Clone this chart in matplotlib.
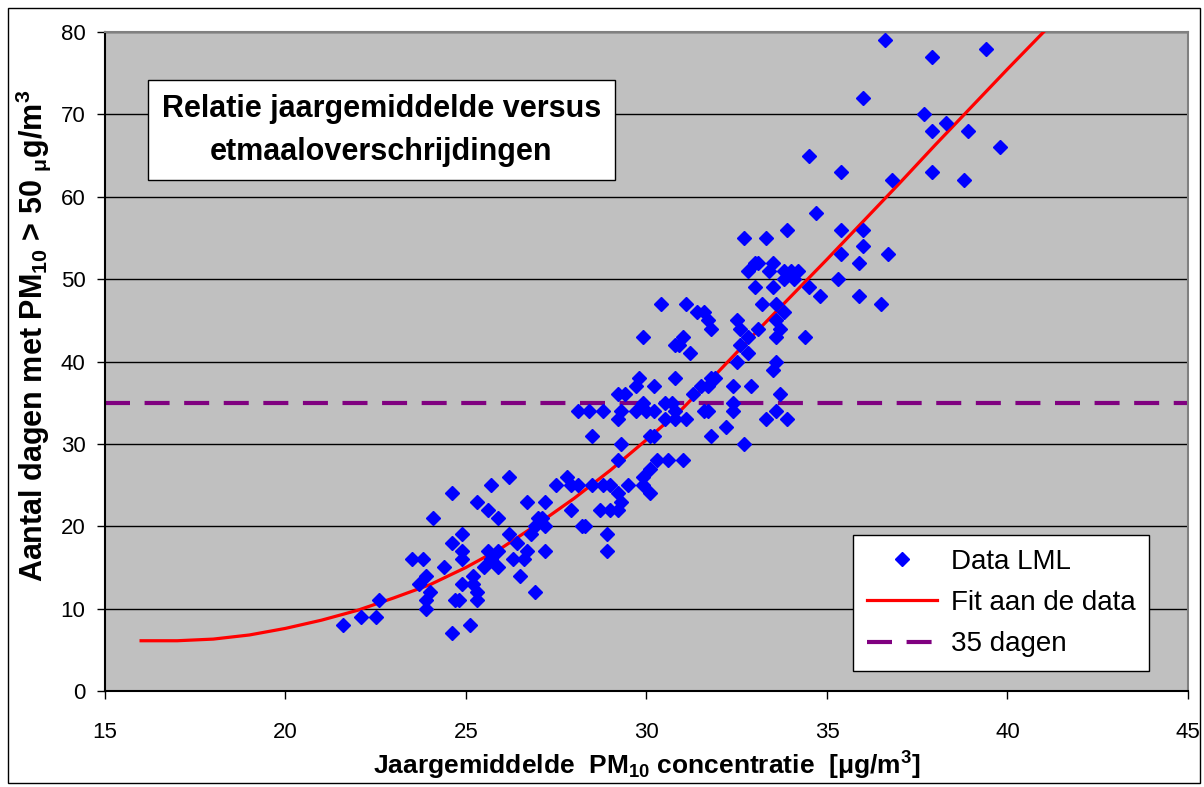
import numpy as np
import matplotlib
matplotlib.use("Agg")
import matplotlib.pyplot as plt
from matplotlib.patches import Rectangle

# jaargemiddelde PM10 (x) en aantal dagen > 50 ug/m3 (y)
pm_x = [21.6, 22.1, 22.5, 22.6, 23.5, 23.7, 23.8, 23.9, 23.9, 23.9, 24.0, 24.1, 24.4, 24.6, 24.6,
        24.6, 24.7, 24.8, 24.9, 24.9, 24.9, 24.9, 25.1, 25.2, 25.2, 25.3, 25.3, 25.3, 25.5, 25.6,
        25.6, 25.7, 25.7, 25.9, 25.9, 25.9, 26.2, 26.2, 26.3, 26.4, 26.5, 26.6, 26.7, 26.7, 26.8,
        26.9, 26.9, 27.0, 27.1, 27.2, 27.2, 27.2, 27.5, 27.8, 27.9, 27.9, 28.1, 28.1, 28.2, 28.3,
        28.4, 28.5, 28.5, 28.7, 28.8, 28.8, 28.9, 28.9, 29.0, 29.0, 29.2, 29.2, 29.2, 29.2, 29.2,
        29.3, 29.3, 29.3, 29.4, 29.5, 29.7, 29.7, 29.8, 29.9, 29.9, 29.9, 29.9, 30.0, 30.1, 30.1,
        30.1, 30.2, 30.2, 30.2, 30.3, 30.4, 30.5, 30.5, 30.6, 30.7, 30.8, 30.8, 30.8, 30.8, 30.9,
        31.0, 31.0, 31.1, 31.1, 31.2, 31.3, 31.4, 31.5, 31.6, 31.6, 31.7, 31.7, 31.7, 31.8, 31.8,
        31.8, 31.9, 32.2, 32.4, 32.4, 32.4, 32.5, 32.5, 32.6, 32.6, 32.7, 32.7, 32.8, 32.8, 32.8,
        32.9, 33.0, 33.0, 33.1, 33.1, 33.2, 33.3, 33.3, 33.4, 33.5, 33.5, 33.5, 33.6, 33.6, 33.6,
        33.6, 33.6, 33.7, 33.7, 33.8, 33.8, 33.8, 33.9, 33.9, 34.0, 34.1, 34.2, 34.4, 34.5, 34.5,
        34.7, 34.8, 35.3, 35.4, 35.4, 35.4, 35.9, 35.9, 36.0, 36.0, 36.0, 36.5, 36.6, 36.7, 36.8,
        37.7, 37.9, 37.9, 37.9, 38.3, 38.8, 38.9, 39.4, 39.8]
dagen = [8, 9, 9, 11, 16, 13, 16, 14, 11, 10, 12, 21, 15, 7, 18,
         24, 11, 11, 19, 17, 16, 13, 8, 13, 14, 11, 12, 23, 15, 17,
         22, 16, 25, 17, 21, 15, 26, 19, 16, 18, 14, 16, 17, 23, 19,
         20, 12, 21, 21, 20, 23, 17, 25, 26, 25, 22, 25, 34, 20, 20,
         34, 25, 31, 22, 25, 34, 19, 17, 22, 25, 22, 24, 28, 33, 36,
         23, 30, 34, 36, 25, 34, 37, 38, 35, 43, 26, 25, 34, 24, 27,
         31, 31, 34, 37, 28, 47, 35, 33, 28, 35, 33, 34, 38, 42, 42,
         43, 28, 33, 47, 41, 36, 46, 37, 34, 46, 34, 37, 45, 44, 31,
         38, 38, 32, 34, 35, 37, 40, 45, 44, 42, 30, 55, 41, 43, 51,
         37, 49, 52, 44, 52, 47, 33, 55, 51, 49, 39, 52, 34, 40, 43,
         45, 47, 36, 44, 46, 50, 51, 33, 56, 51, 50, 51, 43, 49, 65,
         58, 48, 50, 53, 56, 63, 48, 52, 54, 56, 72, 47, 79, 53, 62,
         70, 63, 68, 77, 69, 62, 68, 78, 66]

fit_x = [16, 17, 18, 19, 20, 21, 22, 23, 24, 25, 26, 27, 28, 29, 30, 31, 32, 33, 34, 35,
         36, 37, 38, 39, 40, 41, 42]
fit_y = [6.1, 6.1, 6.3, 6.8, 7.6, 8.6, 9.8, 11.3, 12.9, 15.0, 17.4, 20.3, 23.4, 26.8, 30.5,
         34.3, 38.8, 43.4, 47.9, 52.4, 57.0, 61.6, 66.3, 70.9, 75.5, 80.0, 84.6]

norm_dagen = 35

plt.rcParams['font.family'] = ['Liberation Sans', 'DejaVu Sans']
plt.rcParams['mathtext.fontset'] = 'custom'
plt.rcParams['mathtext.rm'] = 'Liberation Sans:bold'
plt.rcParams['mathtext.it'] = 'Liberation Sans:bold'
plt.rcParams['mathtext.bf'] = 'Liberation Sans:bold'

fig = plt.figure(figsize=(12.04, 7.87), dpi=100)
ax = fig.add_axes([0.0872, 0.122, 0.8995, 0.8373])
ax.set_facecolor('#C0C0C0')

ax.plot(pm_x, dagen, linestyle='none', marker='D', markersize=7.5, color='#0000FF',
        markeredgecolor='#0000FF', label='Data LML', zorder=4)
ax.plot(fit_x, fit_y, color='#FF0000', linewidth=2.3, label='Fit aan de data', zorder=3)
ax.axhline(norm_dagen, color='#800080', linewidth=3, dashes=(6, 3.5), label='35 dagen', zorder=2)

ax.set_xlim(15, 45)
ax.set_ylim(0, 80)
ax.set_xticks(range(15, 46, 5))
ax.set_yticks(range(0, 81, 10))
ax.yaxis.grid(True, color='black', linewidth=1)
ax.set_axisbelow(True)
for s in ax.spines.values():
    s.set_color('#808080')
    s.set_linewidth(1.5)
ax.spines['left'].set_color('black')
ax.spines['bottom'].set_color('black')
ax.tick_params(direction='out', length=6, color='black', width=1)
ax.tick_params(axis='y', labelsize=16, pad=8)
ax.tick_params(axis='x', labelsize=16, pad=16)

ax.set_xlabel(r'Jaargemiddelde  PM$_{10}$ concentratie  [μg/m$^3$]', fontsize=19,
              fontweight='bold')
ax.xaxis.set_label_coords(0.5, -0.09)
ax.set_ylabel(r'Aantal dagen met PM$_{10}$ > 50 $_{μ}$g/m$^3$', fontsize=22,
              fontweight='bold')
ax.yaxis.set_label_coords(-0.048, 0.539)

ax.text(0.255, 0.851, 'Relatie jaargemiddelde versus\netmaaloverschrijdingen',
        transform=ax.transAxes, ha='center', va='center', fontsize=22, fontweight='bold',
        linespacing=1.55,
        bbox=dict(boxstyle='square,pad=0.45', facecolor='white', edgecolor='black', linewidth=1))

leg = ax.legend(loc='lower right', bbox_to_anchor=(0.977, 0.009), fontsize=20, frameon=True,
                fancybox=False, edgecolor='black', framealpha=1, handlelength=2.5,
                borderpad=0.5, labelspacing=0.55, handletextpad=0.5)
leg.get_frame().set_linewidth(1)

fig.patches.append(Rectangle((0.0066, 0.005), 0.99, 0.985, transform=fig.transFigure,
                             fill=False, edgecolor='black', linewidth=1))

fig.savefig('out.png', dpi=100)
